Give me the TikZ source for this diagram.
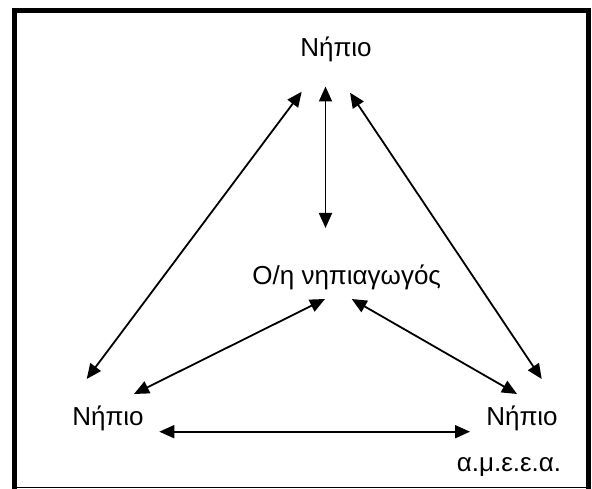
\documentclass[tikz,border=0pt]{standalone}
\usepackage{fontspec}
\setmainfont{Liberation Sans}
\usetikzlibrary{arrows.meta,calc}
\begin{document}
\begin{tikzpicture}[x=1pt,y=-1pt,
  lbl/.style={font=\fontsize{26}{30}\selectfont, inner sep=0pt, anchor=base},
  arr/.style={line width=1.8pt, {Triangle[length=15pt,width=13pt]}-{Triangle[length=15pt,width=13pt]}},
  frame/.style={line width=5pt}]
\useasboundingbox (0,0) rectangle (592,489);
% frame
\draw[frame] (14.3,8.5) -- (14.3,489);
\draw[frame] (12,11) -- (591,11);
\draw[frame] (588.3,8.5) -- (588.3,489);
\draw[line width=1.4pt] (12,487.6) -- (591,487.6);
% labels
\node[lbl] (top) at (336,57) {Νήπιο};
\node[lbl] (ctr) at (346.7,285) {Ο/η νηπιαγωγός};
\node[lbl] (left) at (108,425) {Νήπιο};
\node[lbl] (right) at (522,425) {Νήπιο};
\node[lbl] (amea) at (509,471) {α.μ.ε.ε.α.};
% connectors
\draw[arr] ($(top.base)+(-34.3,34.7)$) -- ($(left.base)+(-21.3,-46)$);
\draw[arr] ($(top.base)+(-10.5,29.5)$) -- ($(ctr.base)+(-21.2,-57)$);
\draw[arr] ($(top.base)+(14,35.7)$) -- ($(right.base)+(19.7,-46)$);
\draw[arr] ($(ctr.base)+(-21.7,14)$) -- ($(left.base)+(26,-31)$);
\draw[arr] ($(ctr.base)+(5,14)$) -- ($(right.base)+(-5,-31)$);
\draw[arr] ($(left.base)+(51.3,6.7)$) -- ($(right.base)+(-52,6.7)$);
\end{tikzpicture}
\end{document}
